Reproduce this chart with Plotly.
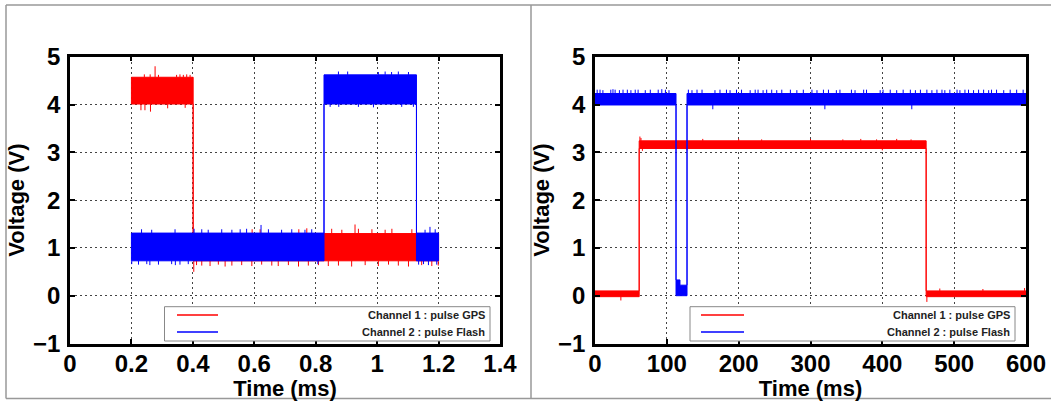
import bisect
import plotly.graph_objects as go

# ---------------- data ----------------
# Left panel (time in ms, 0..1.4)
L_CH1_T = [0.2, 0.401, 1.2]          # segment boundaries
L_CH1_LO = [4.01, 0.73]              # noise band bottom per segment (V)
L_CH1_HI = [4.57, 1.30]              # noise band top per segment (V)
L_CH1_SPK_T = [0.242, 0.261, 0.277, 0.288, 0.347, 0.358, 0.369, 0.380, 0.391,
               0.231, 0.244, 0.262, 0.318, 0.375,
               0.403,
               0.412, 0.429, 0.456, 0.483, 0.505, 0.527, 0.559, 0.592, 0.624, 0.657,
               0.678, 0.711, 0.744, 0.776, 0.809, 0.841, 0.874, 0.917, 0.961, 1.004,
               1.037, 1.069, 1.102, 1.145, 1.178, 1.199,
               0.593, 0.619, 0.745, 0.771, 0.852, 0.885, 0.928, 0.939, 0.983, 1.026,
               1.048, 1.113]
L_CH1_SPK_V = [4.63, 4.63, 4.80, 4.62, 4.62, 4.63, 4.62, 4.63, 4.62,
               3.88, 3.88, 3.85, 3.92, 3.93,
               0.50,
               0.64, 0.63, 0.62, 0.65, 0.61, 0.63, 0.64, 0.62, 0.65, 0.63,
               0.62, 0.64, 0.61, 0.63, 0.64, 0.62, 0.63, 0.61, 0.64, 0.62,
               0.65, 0.63, 0.61, 0.64, 0.62, 0.63,
               1.39, 1.39, 1.39, 1.41, 1.40, 1.38, 1.49, 1.40, 1.39, 1.38,
               1.40, 1.39]

L_CH2_T = [0.2, 0.827, 1.128, 1.2]
L_CH2_LO = [0.73, 4.01, 0.73]
L_CH2_HI = [1.31, 4.62, 1.31]
L_CH2_SPK_T = [0.233, 0.266, 0.342, 0.404, 0.429, 0.450, 0.494, 0.527, 0.554, 0.575,
               0.622, 0.646, 0.689, 0.722, 0.765, 0.787, 1.156, 1.172, 1.189,
               0.201, 0.223, 0.250, 0.260, 0.288, 0.331, 0.343, 0.358, 0.385, 0.807,
               1.135, 1.151, 1.167, 1.194,
               0.874, 0.904, 1.004, 1.026, 1.047, 1.069, 1.102,
               0.847, 0.875, 0.939, 0.988, 1.080, 1.118]
L_CH2_SPK_V = [1.39, 1.38, 1.39, 1.40, 1.39, 1.38, 1.39, 1.38, 1.39, 1.40,
               1.48, 1.39, 1.38, 1.39, 1.38, 1.39, 1.38, 1.44, 1.39,
               0.66, 0.65, 0.66, 0.64, 0.65, 0.66, 0.64, 0.65, 0.66, 0.66,
               0.65, 0.66, 0.64, 0.65,
               4.69, 4.69, 4.68, 4.69, 4.68, 4.69, 4.68,
               3.95, 3.95, 3.95, 3.94, 3.95, 3.95]

# Right panel (time in ms, 0..600)
R_CH1_T = [0, 61.5, 461, 600]
R_CH1_LO = [-0.02, 3.08, -0.02]
R_CH1_HI = [0.10, 3.24, 0.10]
R_CH1_SPK_T = [62.5, 64, 150, 200, 232, 300, 345, 370, 392, 420, 440,
               66, 128, 400,
               36, 462, 480, 540, 598]
R_CH1_SPK_V = [3.33, 3.30, 3.28, 3.28, 3.27, 3.28, 3.27, 3.28, 3.27, 3.28, 3.27,
               3.03, 3.04, 3.04,
               -0.10, -0.13, 0.15, 0.14, 0.16]

R_CH2_T = [0, 112.8, 118.3, 128.1, 600]
R_CH2_LO = [3.99, 0.0, 0.0, 3.99]
R_CH2_HI = [4.23, 0.33, 0.22, 4.23]
R_CH2_SPK_T = [3, 7, 11, 22, 25, 28, 34, 39, 45, 50,
               56, 60, 70, 77, 88, 93, 98, 103,
               130, 135, 142, 149, 167, 174, 183, 188, 197, 204,
               216, 223, 227, 234, 239, 246, 253, 260, 272, 281,
               290, 302, 309, 318, 325, 336, 341, 357, 362, 374,
               378, 397, 401, 411, 420, 429, 439, 446, 453, 462,
               469, 476, 483, 487, 494, 504, 508, 515, 520, 527,
               534, 541, 548, 552, 559, 569, 578, 587, 596,
               164, 320, 441]
R_CH2_SPK_V = [4.31, 4.31, 4.30, 4.31, 4.32, 4.31, 4.30, 4.31, 4.31, 4.30,
               4.31, 4.31, 4.30, 4.31, 4.31, 4.32, 4.31, 4.30,
               4.31, 4.30, 4.31, 4.31, 4.30, 4.31, 4.31, 4.30, 4.31, 4.31,
               4.30, 4.31, 4.31, 4.30, 4.31, 4.31, 4.30, 4.31, 4.31, 4.30,
               4.31, 4.31, 4.30, 4.31, 4.31, 4.30, 4.31, 4.31, 4.30, 4.31,
               4.31, 4.30, 4.31, 4.31, 4.30, 4.31, 4.31, 4.30, 4.31, 4.31,
               4.30, 4.31, 4.31, 4.30, 4.31, 4.31, 4.30, 4.31, 4.31, 4.30,
               4.31, 4.31, 4.30, 4.31, 4.31, 4.30, 4.31, 4.31, 4.31,
               3.90, 3.90, 3.90]

X_TICKS_L = [0, 0.2, 0.4, 0.6, 0.8, 1.0, 1.2, 1.4]
X_TICKS_R = [0, 100, 200, 300, 400, 500, 600]
Y_TICKS = [-1, 0, 1, 2, 3, 4, 5]
LEGEND_NAMES = ["Channel 1 : pulse GPS", "Channel 2 : pulse Flash"]

RED = "#ff0000"
BLUE = "#0000ff"
W, H = 1051, 401


def band_polygon(T, lo, hi):
    xs, ys = [], []
    for i in range(len(lo)):
        xs += [T[i], T[i + 1]]
        ys += [hi[i], hi[i]]
    for i in reversed(range(len(lo))):
        xs += [T[i + 1], T[i]]
        ys += [lo[i], lo[i]]
    xs.append(xs[0])
    ys.append(ys[0])
    return xs, ys


def spike_lines(T, lo, hi, st, sv):
    xs, ys = [], []
    for t, v in zip(st, sv):
        i = min(max(bisect.bisect_right(T, t) - 1, 0), len(lo) - 1)
        base = hi[i] if v > hi[i] else lo[i]
        xs += [t, t, None]
        ys += [base, v, None]
    return xs, ys


fig = go.Figure()


def add_channel(T, lo, hi, st, sv, color, xa, ya):
    bx, by = band_polygon(T, lo, hi)
    fig.add_trace(go.Scatter(x=bx, y=by, mode="lines", fill="toself",
                             fillcolor=color, line=dict(color=color, width=1),
                             xaxis=xa, yaxis=ya, showlegend=False, hoverinfo="skip"))
    sx, sy = spike_lines(T, lo, hi, st, sv)
    fig.add_trace(go.Scatter(x=sx, y=sy, mode="lines",
                             line=dict(color=color, width=1),
                             xaxis=xa, yaxis=ya, showlegend=False, hoverinfo="skip"))


add_channel(L_CH1_T, L_CH1_LO, L_CH1_HI, L_CH1_SPK_T, L_CH1_SPK_V, RED, "x", "y")
add_channel(L_CH2_T, L_CH2_LO, L_CH2_HI, L_CH2_SPK_T, L_CH2_SPK_V, BLUE, "x", "y")
add_channel(R_CH1_T, R_CH1_LO, R_CH1_HI, R_CH1_SPK_T, R_CH1_SPK_V, RED, "x2", "y2")
add_channel(R_CH2_T, R_CH2_LO, R_CH2_HI, R_CH2_SPK_T, R_CH2_SPK_V, BLUE, "x2", "y2")

FONT = "Liberation Sans, Arial, Helvetica, sans-serif"
tickfont = dict(family=FONT, size=24, color="black", weight="bold")
titlefont = dict(family=FONT, size=22, color="black", weight="bold")

common = dict(showline=True, linecolor="black", linewidth=2.5, mirror="ticks",
              ticks="inside", ticklen=5, tickwidth=2, tickcolor="black",
              showgrid=True, gridcolor="#444444", gridwidth=1, griddash="2px,3px",
              zeroline=False, tickfont=tickfont, automargin=False)

y_dom = [1 - 343.5 / H, 1 - 56.7 / H]
fig.update_layout(
    width=W, height=H, margin=dict(l=0, r=0, t=0, b=0, autoexpand=False),
    paper_bgcolor="white", plot_bgcolor="white", showlegend=False,
    xaxis=dict(domain=[70 / W, 500 / W], range=[0, 1.4], tickvals=X_TICKS_L,
               ticktext=[f"{v:g}" for v in X_TICKS_L], anchor="y",
               title=dict(text="Time (ms)", font=titlefont, standoff=10),
               ticklabelstandoff=-3, **common),
    yaxis=dict(domain=y_dom, range=[-1, 5], tickvals=Y_TICKS, anchor="x",
               title=dict(text="Voltage (V)", font=titlefont, standoff=3),
               ticklabelstandoff=2, **common),
    xaxis2=dict(domain=[595 / W, 1026 / W], range=[0, 600], tickvals=X_TICKS_R,
                anchor="y2", title=dict(text="Time (ms)", font=titlefont, standoff=10),
                ticklabelstandoff=-3, **common),
    yaxis2=dict(domain=y_dom, range=[-1, 5], tickvals=Y_TICKS, anchor="x2",
                title=dict(text="Voltage (V)", font=titlefont, standoff=3),
                ticklabelstandoff=2, **common),
)


def px(x):
    return x / W


def py(y):
    return 1 - y / H


shapes = []
# outer frame (gray)
frame = dict(type="line", xref="paper", yref="paper", line=dict(color="#999999", width=1.5))
shapes.append({**frame, "x0": px(6), "x1": px(W), "y0": py(5), "y1": py(5)})
shapes.append({**frame, "x0": px(6), "x1": px(W), "y0": py(398.5), "y1": py(398.5)})
shapes.append({**frame, "x0": px(6), "x1": px(6), "y0": py(5), "y1": py(398.5)})
shapes.append({**frame, "x0": px(531), "x1": px(531), "y0": py(5), "y1": py(398.5)})

annotations = []
legend_boxes = [(164.5, 490, 177, 218, 487), (690, 1015, 701, 744, 1012)]
for (bx0, bx1, lx0, lx1, tx) in legend_boxes:
    shapes.append(dict(type="rect", xref="paper", yref="paper",
                       x0=px(bx0), x1=px(bx1), y0=py(341), y1=py(306.7),
                       fillcolor="white", line=dict(color="#888888", width=1)))
    for name, color, yy in zip(LEGEND_NAMES, [RED, BLUE], [315, 332]):
        shapes.append(dict(type="line", xref="paper", yref="paper",
                           x0=px(lx0), x1=px(lx1), y0=py(yy), y1=py(yy),
                           line=dict(color=color, width=1.5)))
        annotations.append(dict(xref="paper", yref="paper", x=px(tx), y=py(yy),
                                xanchor="right", yanchor="middle", showarrow=False,
                                text=name, font=dict(family=FONT, size=11,
                                                     color="#222222", weight="bold")))

fig.update_layout(shapes=shapes, annotations=annotations)
fig.write_html("out.html", config={"displayModeBar": False},
               post_script="document.body.style.margin='0';"
                           "document.body.style.overflow='hidden';")
